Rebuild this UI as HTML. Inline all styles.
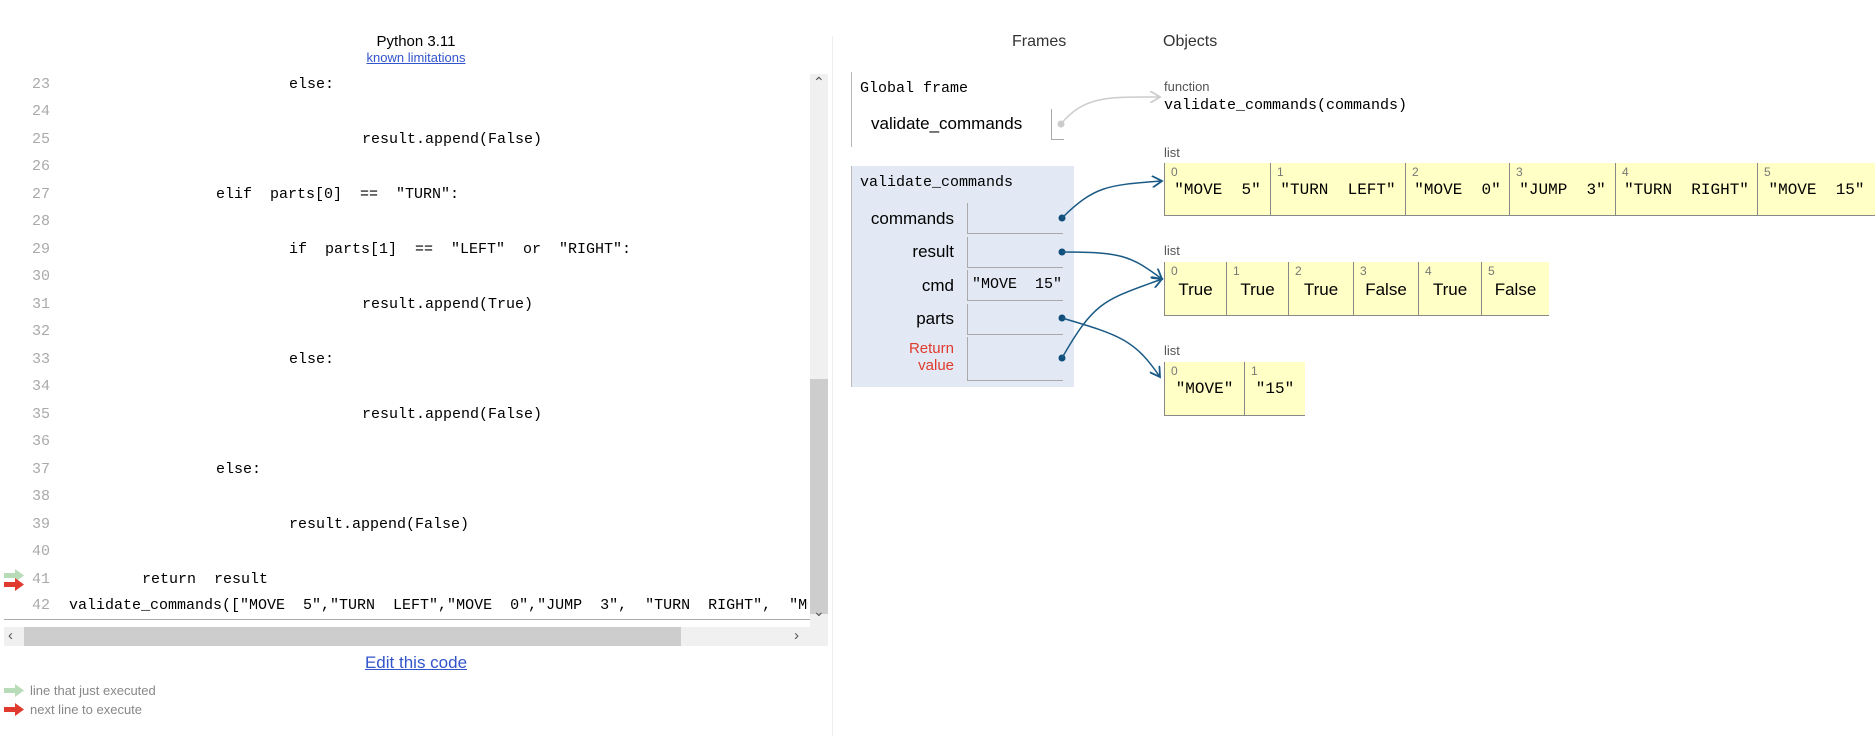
<!DOCTYPE html>
<html><head><meta charset="utf-8"><style>
body{margin:0;width:1875px;height:732px;background:#fff;position:relative;overflow:hidden;font-family:"Liberation Sans",sans-serif}
.a{position:absolute;white-space:pre}
.m{font-family:"Liberation Mono","Noto Sans CJK SC",monospace}
.ln{position:absolute;left:20px;width:30px;text-align:right;color:#aaa;font-family:"Liberation Mono",monospace;font-size:15px;margin-top:2px}
.cd{position:absolute;font-family:"Liberation Mono",monospace;font-size:15px;color:#000;white-space:pre;margin-top:2px}
.cell{position:absolute;border-left:1px solid #888;border-bottom:1px solid #888;background:#ffffc6;box-sizing:border-box}
.idx{position:absolute;left:6px;top:2px;font-size:12px;color:#777}
.val{position:absolute;left:0;right:0;top:18px;text-align:center;font-size:16px;white-space:pre}
.lbl{position:absolute;right:920px;font-size:17px;text-align:right}
.vc{position:absolute;left:967px;width:96px;border-left:1px solid #aaa;border-bottom:1px solid #aaa;box-sizing:border-box}
</style></head><body>
<div class="a" style="left:0;width:832px;top:33px;text-align:center;font-size:15px">Python 3.11</div>
<div class="a" style="left:0;width:832px;top:50px;text-align:center;font-size:13px;color:#3355cc;text-decoration:underline">known limitations</div>
<div class="a" style="left:4px;top:619px;width:806px;border-top:1px solid #aaa"></div>
<div class="a" style="left:810px;top:74px;width:18px;height:553px;background:#f0f0f0"></div>
<div class="a" style="left:810px;top:379px;width:18px;height:235px;background:#cdcdcd"></div>
<div class="a" style="left:813px;top:74px;font-size:14px;color:#555">&#8963;</div>
<div class="a" style="left:813px;top:603px;font-size:14px;color:#555">&#8964;</div>
<div class="a" style="left:4px;top:627px;width:824px;height:19px;background:#f0f0f0"></div>
<div class="a" style="left:24px;top:627px;width:657px;height:19px;background:#cdcdcd"></div>
<div class="a" style="left:8px;top:627px;font-size:15px;color:#555">&#8249;</div>
<div class="a" style="left:794px;top:627px;font-size:15px;color:#555">&#8250;</div>

<div class="ln" style="top:74px">23</div><div class="cd" style="left:289px;top:74px">else:</div>
<div class="ln" style="top:101px">24</div>
<div class="ln" style="top:129px">25</div><div class="cd" style="left:362px;top:129px">result.append(False)</div>
<div class="ln" style="top:156px">26</div>
<div class="ln" style="top:184px">27</div><div class="cd" style="left:216px;top:184px">elif  parts[0]  ==  "TURN":</div>
<div class="ln" style="top:211px">28</div>
<div class="ln" style="top:239px">29</div><div class="cd" style="left:289px;top:239px">if  parts[1]  ==  "LEFT"  or  "RIGHT":</div>
<div class="ln" style="top:266px">30</div>
<div class="ln" style="top:294px">31</div><div class="cd" style="left:362px;top:294px">result.append(True)</div>
<div class="ln" style="top:321px">32</div>
<div class="ln" style="top:349px">33</div><div class="cd" style="left:289px;top:349px">else:</div>
<div class="ln" style="top:376px">34</div>
<div class="ln" style="top:404px">35</div><div class="cd" style="left:362px;top:404px">result.append(False)</div>
<div class="ln" style="top:431px">36</div>
<div class="ln" style="top:459px">37</div><div class="cd" style="left:216px;top:459px">else:</div>
<div class="ln" style="top:486px">38</div>
<div class="ln" style="top:514px">39</div><div class="cd" style="left:289px;top:514px">result.append(False)</div>
<div class="ln" style="top:541px">40</div>
<div class="ln" style="top:569px">41</div><div class="cd" style="left:142px;top:569px">return  result</div>
<div class="ln" style="top:595px">42</div><div class="cd" style="left:69px;top:595px;width:739px;overflow:hidden">validate_commands(["MOVE  5","TURN  LEFT","MOVE  0","JUMP  3",  "TURN  RIGHT",  "MOVE 15"])</div>
<svg class="a" style="left:0;top:0" width="840" height="732">
<g fill="#b8dcb8"><rect x="4" y="573" width="12" height="5"/><polygon points="15,569 24,575.5 15,582"/></g>
<g fill="#e03a2e"><rect x="4" y="582" width="12" height="5"/><polygon points="15,578 24,584.5 15,591"/></g>
<g fill="#b8dcb8"><rect x="4" y="688" width="12" height="5"/><polygon points="15,684 24,690.5 15,697"/></g>
<g fill="#e03a2e"><rect x="4" y="707" width="12" height="5"/><polygon points="15,703 24,709.5 15,716"/></g>
</svg>
<div class="a" style="left:0;width:832px;top:653px;text-align:center;font-size:17px;color:#3355cc;text-decoration:underline">Edit this code</div>
<div class="a" style="left:30px;top:683px;font-size:13px;color:#888">line that just executed</div>
<div class="a" style="left:30px;top:702px;font-size:13px;color:#888">next line to execute</div>

<div class="a" style="left:832px;top:36px;height:700px;border-left:1px solid #eee"></div>
<div class="a" style="left:1012px;top:33px;font-size:16px;color:#333">Frames</div>
<div class="a" style="left:1163px;top:33px;font-size:16px;color:#333">Objects</div>
<div class="a" style="left:851px;top:72px;height:75px;border-left:1px solid #bbb"></div>
<div class="a m" style="left:860px;top:80px;font-size:15px">Global frame</div>
<div class="a" style="left:871px;top:114px;font-size:17px">validate_commands</div>
<div class="a" style="left:1051px;top:109px;width:12px;height:30px;border-left:1px solid #aaa;border-bottom:1px solid #aaa"></div>
<div class="a" style="left:1164px;top:79px;font-size:13px;color:#555">function</div>
<div class="a m" style="left:1164px;top:97px;font-size:15px">validate_commands(commands)</div>

<div class="a" style="left:851px;top:166px;width:222px;height:221px;background:#e2e9f4;border-left:1px solid #bbb"></div>
<div class="a m" style="left:860px;top:174px;font-size:15px">validate_commands</div>
<div class="lbl a" style="top:209px;left:0;width:954px">commands</div>
<div class="lbl a" style="top:242px;left:0;width:954px">result</div>
<div class="lbl a" style="top:276px;left:0;width:954px">cmd</div>
<div class="lbl a" style="top:309px;left:0;width:954px">parts</div>
<div class="a" style="top:340px;left:0;width:954px;text-align:right;font-size:15px;color:#e03a2e;line-height:17px">Return<br>value</div>
<div class="vc" style="top:203px;height:31px"></div>
<div class="vc" style="top:237px;height:31px"></div>
<div class="vc" style="top:270px;height:31px"></div>
<div class="vc" style="top:304px;height:31px"></div>
<div class="vc" style="top:337px;height:44px"></div>
<div class="a m" style="left:972px;top:276px;font-size:15px">"MOVE  15"</div>

<div class="a" style="left:1164px;top:145px;font-size:13px;color:#555">list</div>
<div class="a" style="left:1164px;top:243px;font-size:13px;color:#555">list</div>
<div class="a" style="left:1164px;top:343px;font-size:13px;color:#555">list</div>
<div class="cell" style="left:1164px;top:163px;width:106px;height:53px"><span class="idx">0</span><span class="val m">"MOVE  5"</span></div>
<div class="cell" style="left:1270px;top:163px;width:135px;height:53px"><span class="idx">1</span><span class="val m">"TURN  LEFT"</span></div>
<div class="cell" style="left:1405px;top:163px;width:104px;height:53px"><span class="idx">2</span><span class="val m">"MOVE  0"</span></div>
<div class="cell" style="left:1509px;top:163px;width:106px;height:53px"><span class="idx">3</span><span class="val m">"JUMP  3"</span></div>
<div class="cell" style="left:1615px;top:163px;width:142px;height:53px"><span class="idx">4</span><span class="val m">"TURN  RIGHT"</span></div>
<div class="cell" style="left:1757px;top:163px;width:118px;height:53px"><span class="idx">5</span><span class="val m">"MOVE  15"</span></div>

<div class="cell" style="left:1164px;top:262px;width:62px;height:54px"><span class="idx">0</span><span class="val" style="font-size:17px">True</span></div>
<div class="cell" style="left:1226px;top:262px;width:62px;height:54px"><span class="idx">1</span><span class="val" style="font-size:17px">True</span></div>
<div class="cell" style="left:1288px;top:262px;width:65px;height:54px"><span class="idx">2</span><span class="val" style="font-size:17px">True</span></div>
<div class="cell" style="left:1353px;top:262px;width:65px;height:54px"><span class="idx">3</span><span class="val" style="font-size:17px">False</span></div>
<div class="cell" style="left:1418px;top:262px;width:63px;height:54px"><span class="idx">4</span><span class="val" style="font-size:17px">True</span></div>
<div class="cell" style="left:1481px;top:262px;width:68px;height:54px"><span class="idx">5</span><span class="val" style="font-size:17px">False</span></div>

<div class="cell" style="left:1164px;top:362px;width:80px;height:54px"><span class="idx">0</span><span class="val m">"MOVE"</span></div>
<div class="cell" style="left:1244px;top:362px;width:61px;height:54px"><span class="idx">1</span><span class="val m">"15"</span></div>

<svg class="a" style="left:0;top:0" width="1875" height="732">
<defs><marker id="ar" markerWidth="12" markerHeight="12" refX="10" refY="6" orient="auto" markerUnits="userSpaceOnUse"><path d="M0,0 L10,6 L0,12" fill="none" stroke="#1a5a85" stroke-width="1.8"/></marker>
<marker id="ag" markerWidth="12" markerHeight="12" refX="10" refY="6" orient="auto" markerUnits="userSpaceOnUse"><path d="M0,0 L10,6 L0,12" fill="none" stroke="#ccc" stroke-width="1.8"/></marker></defs>
<circle cx="1061" cy="124" r="3.5" fill="#ccc"/>
<path d="M1061,124 C1085,95 1110,97 1160,97" fill="none" stroke="#ccc" stroke-width="1.5" marker-end="url(#ag)"/>
<g fill="#0f4e7a"><circle cx="1062" cy="218" r="3.5"/><circle cx="1062" cy="252" r="3.5"/><circle cx="1062" cy="318" r="3.5"/><circle cx="1062" cy="358" r="3.5"/></g>
<g fill="none" stroke="#1a5a85" stroke-width="1.5" marker-end="url(#ar)">
<path d="M1062,218 C1095,185 1110,185 1162,181"/>
<path d="M1062,252 C1120,252 1130,255 1162,279"/>
<path d="M1062,358 C1095,300 1105,300 1162,279"/>
<path d="M1062,318 C1120,335 1135,340 1160,377"/>
</g>
</svg>
</body></html>
